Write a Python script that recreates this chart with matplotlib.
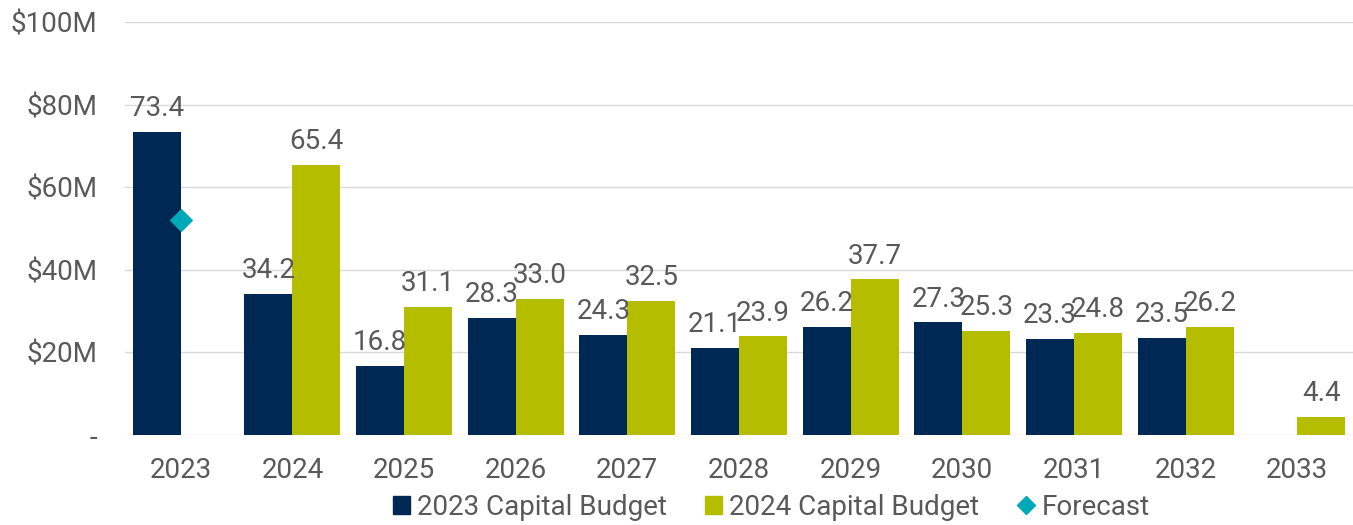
import numpy as np
import matplotlib.pyplot as plt
from matplotlib.lines import Line2D
from matplotlib.patches import Patch

plt.rcParams['font.family'] = ['Roboto', 'DejaVu Sans']

years = ['2023', '2024', '2025', '2026', '2027', '2028', '2029', '2030', '2031', '2032', '2033']
budget_2023 = [73.4, 34.2, 16.8, 28.3, 24.3, 21.1, 26.2, 27.3, 23.3, 23.5, np.nan]
budget_2024 = [np.nan, 65.4, 31.1, 33.0, 32.5, 23.9, 37.7, 25.3, 24.8, 26.2, 4.4]
forecast_year = '2023'
forecast_value = 52.0
y_ticks = [0, 20, 40, 60, 80, 100]
y_tick_labels = ['-', '$20M', '$40M', '$60M', '$80M', '$100M']

navy = '#002855'
olive = '#B5BD00'
teal = '#00A9B7'
grey = '#595959'

fig = plt.figure(figsize=(13.53, 5.25), dpi=100)
ax = fig.add_axes([0.0924, 0.1714, 0.9076, 0.7867])

x = np.arange(len(years))
w = 0.43
b1 = ax.bar(x - w / 2, budget_2023, w, color=navy)
b2 = ax.bar(x + w / 2, budget_2024, w, color=olive)

# value labels above bars
for xs, vals in [(x - w / 2, budget_2023), (x + w / 2, budget_2024)]:
    for xi, v in zip(xs, vals):
        if np.isnan(v):
            continue
        ax.annotate(f'{v:.1f}', (xi, v), xytext=(0, 7), textcoords='offset points',
                    ha='center', va='bottom', fontsize=20, color=grey)

fx = years.index(forecast_year)
ax.scatter([fx], [forecast_value], marker='D', s=120, color=teal, zorder=5)

ax.set_xlim(-0.5, len(years) - 0.5)
ax.set_ylim(0, 100)
ax.set_yticks(y_ticks)
ax.set_yticklabels(y_tick_labels)
ax.set_xticks(x)
ax.set_xticklabels(years)
ax.grid(axis='y', color='#d9d9d9', linewidth=1)
ax.set_axisbelow(True)
for s in ax.spines.values():
    s.set_visible(False)
ax.tick_params(axis='both', length=0, labelsize=20, colors=grey)
ax.tick_params(axis='x', pad=16)
ax.tick_params(axis='y', pad=20)

handles = [Patch(color=navy, label='2023 Capital Budget'),
           Patch(color=olive, label='2024 Capital Budget'),
           Line2D([], [], marker='D', linestyle='none', color=teal, markersize=9, label='Forecast')]
leg = fig.legend(handles=handles, loc='center', bbox_to_anchor=(0.57, 0.034), ncol=3,
                 frameon=False, fontsize=20, handlelength=0.6, handleheight=0.6,
                 handletextpad=0.25, columnspacing=1.4)
for t in leg.get_texts():
    t.set_color(grey)

fig.savefig('out.png', dpi=100)
